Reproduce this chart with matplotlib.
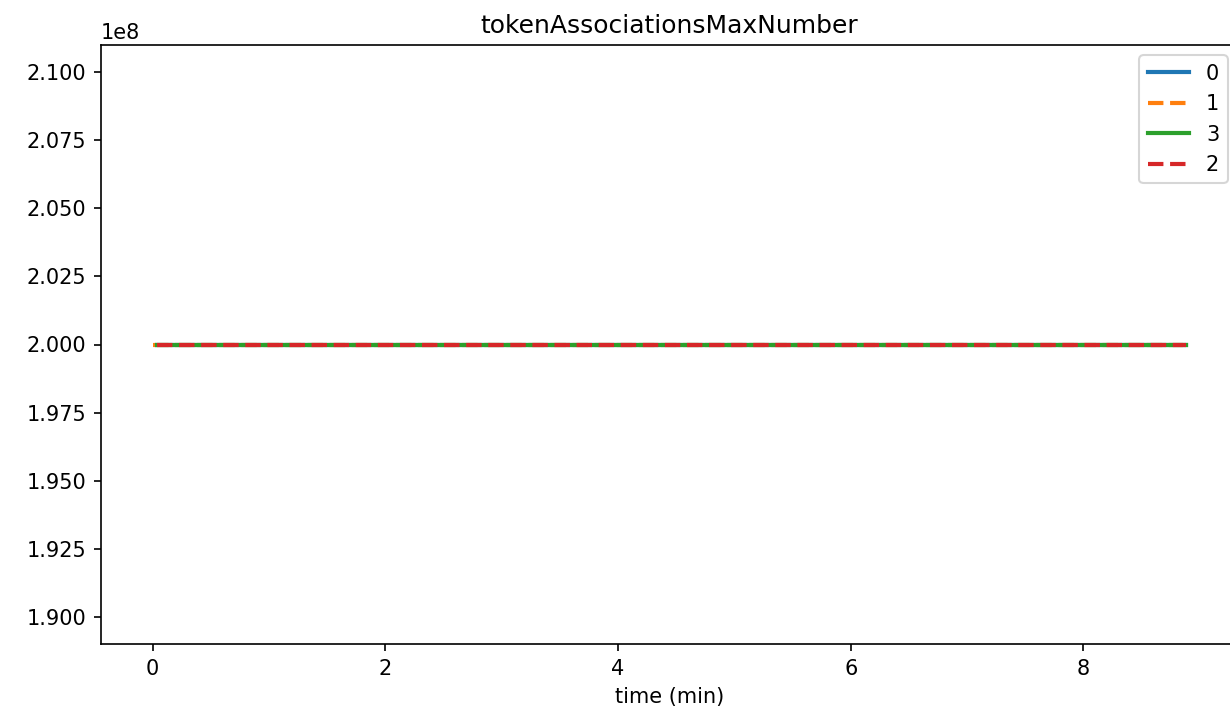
'''
tokenAssociationsMaxNumber per node over time
'''
import matplotlib
matplotlib.use("Agg")
import matplotlib.pyplot as plt

# node labels in legend order, with sample times (min) and values
nodes = ["0", "1", "3", "2"]
time_0 = [0.035, 8.885]
time_1 = [0.0, 8.86]
time_3 = [0.035, 8.885]
time_2 = [0.035, 8.885]
value_0 = [2.0e8, 2.0e8]
value_1 = [2.0e8, 2.0e8]
value_3 = [2.0e8, 2.0e8]
value_2 = [2.0e8, 2.0e8]

times = [time_0, time_1, time_3, time_2]
values = [value_0, value_1, value_3, value_2]
styles = ["-", "--", "-", "--"]
colors = ["C0", "C1", "C2", "C3"]

W, H = 1230, 721
fig = plt.figure(figsize=(W / 150, H / 150), dpi=150)
# axes box in pixels (right edge runs a bit past the saved image)
left, right, top, bottom = 101, 1238, 45, 644
ax = fig.add_axes([left / W, 1 - bottom / H, (right - left) / W, (bottom - top) / H])

for name, t, v, ls, c in zip(nodes, times, values, styles, colors):
    ax.plot(t, v, ls, color=c, lw=2, label=name)

ax.set_title("tokenAssociationsMaxNumber", fontsize=12)
ax.set_xlabel("time (min)")
ax.legend(loc="upper right")

fig.savefig("out.png", dpi=150)
